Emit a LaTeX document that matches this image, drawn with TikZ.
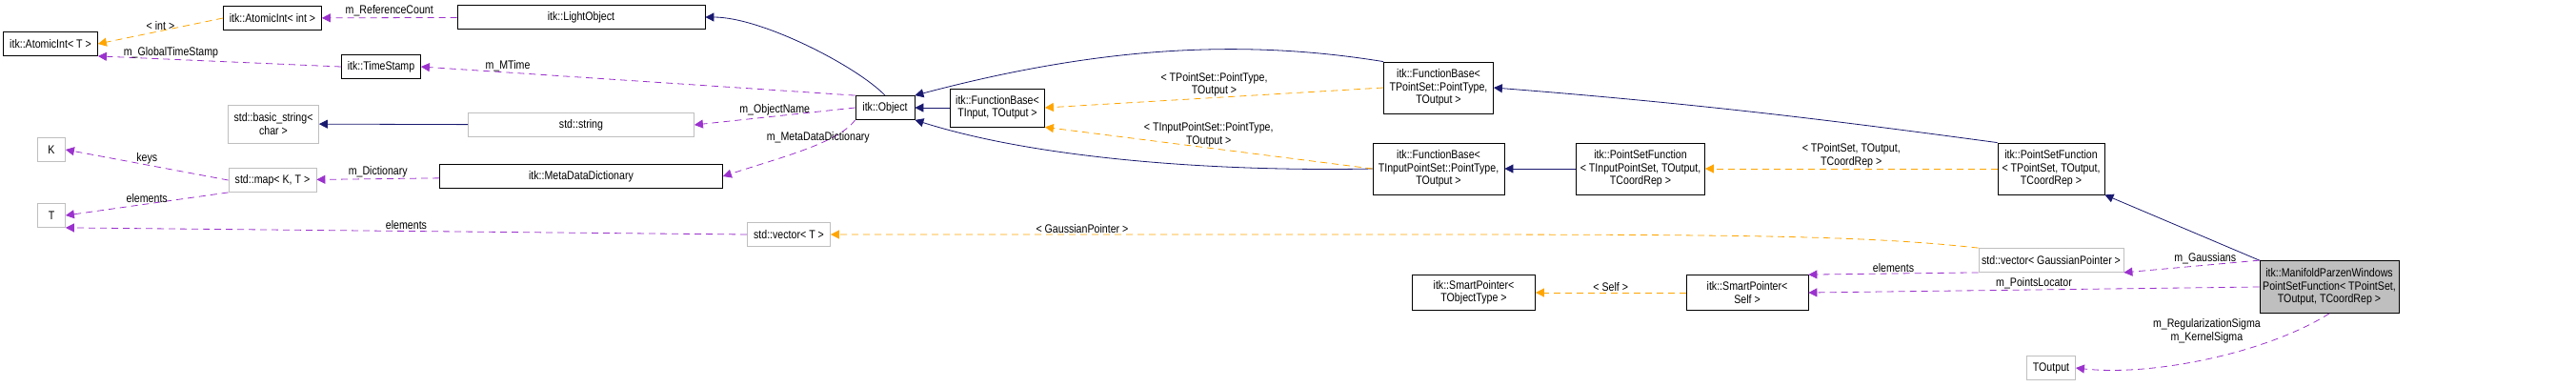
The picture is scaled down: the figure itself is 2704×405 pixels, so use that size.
\documentclass[tikz,border=0pt]{standalone}
\usepackage{fontspec}
\setmainfont{Liberation Sans}[FakeStretch=0.85]
\usetikzlibrary{arrows.meta}

\definecolor{inhcol}{RGB}{25,25,112}
\definecolor{usecol}{RGB}{155,50,205}
\definecolor{tplcol}{RGB}{255,165,0}

\tikzset{
  cls/.style={draw=black,thick,fill=white,align=center,inner sep=2pt,minimum height=25pt},
  ext/.style={cls,draw=black!25},
  inh/.style={draw=inhcol,thick,-{Triangle[length=9pt,width=9pt]}},
  use/.style={draw=usecol,thick,dashed,dash pattern=on 7pt off 5pt,-{Triangle[length=9pt,width=9pt]}},
  tpl/.style={use,draw=tplcol},
  lbl/.style={font=\fontsize{12.5}{13.5}\selectfont,align=center,inner sep=1pt}
}

\begin{document}
\begin{tikzpicture}[x=1pt,y=-1pt,font=\fontsize{12.5}{13.5}\selectfont]
  \useasboundingbox (0,0) rectangle (2704,405);

  % left column
  \node[cls,minimum width=99pt] (atomT) at (53,46) {itk::AtomicInt< T >};
  \node[ext,minimum width=29pt] (K) at (54,157) {K};
  \node[ext,minimum width=29pt] (T) at (54,226) {T};

  \node[cls,minimum width=103pt] (atomInt) at (286,19) {itk::AtomicInt< int >};
  \node[cls,minimum width=83pt] (tstamp) at (400,70) {itk::TimeStamp};
  \node[ext,minimum width=95pt,minimum height=40pt] (bstring) at (287,130) {std::basic\_string<\\char >};
  \node[ext,minimum width=92pt] (map) at (286,189) {std::map< K, T >};

  \node[cls,minimum width=260pt] (light) at (610,18) {itk::LightObject};
  \node[ext,minimum width=237pt] (string) at (610,131) {std::string};
  \node[cls,minimum width=297pt] (mdd) at (610,185) {itk::MetaDataDictionary};
  \node[ext,minimum width=87pt] (vecT) at (828,246) {std::vector< T >};

  \node[cls,minimum width=62pt] (object) at (929,113) {itk::Object};
  \node[cls,minimum width=99pt,minimum height=40pt] (fbase) at (1047,113) {itk::FunctionBase<\\TInput, TOutput >};

  \node[cls,minimum width=115pt,minimum height=54pt] (fbPS) at (1510,92) {itk::FunctionBase<\\TPointSet::PointType,\\TOutput >};
  \node[cls,minimum width=138pt,minimum height=54pt] (fbIPS) at (1510,177) {itk::FunctionBase<\\TInputPointSet::PointType,\\TOutput >};
  \node[cls,minimum width=129pt,minimum height=37pt] (spObj) at (1547,307) {itk::SmartPointer<\\TObjectType >};

  \node[cls,minimum width=135pt,minimum height=54pt] (psfIPS) at (1722,177) {itk::PointSetFunction\\< TInputPointSet, TOutput,\\TCoordRep >};
  \node[cls,minimum width=128pt,minimum height=37pt] (spSelf) at (1834,307) {itk::SmartPointer<\\Self >};

  \node[cls,minimum width=112pt,minimum height=54pt] (psfPS) at (2153,177) {itk::PointSetFunction\\< TPointSet, TOutput,\\TCoordRep >};
  \node[ext,minimum width=152pt] (vecGP) at (2153,273) {std::vector< GaussianPointer >};
  \node[ext,minimum width=51pt] (toutput) at (2153,386) {TOutput};

  \node[cls,fill=black!25,minimum width=146pt,minimum height=55pt] (mpw) at (2445,301) {itk::ManifoldParzenWindows\\PointSetFunction< TPointSet,\\TOutput, TCoordRep >};

  % inheritance
  \draw[inh] (object.north) .. controls (900,70) and (800,18) .. (light.east);
  \draw[inh] (string) -- (bstring);
  \draw[inh] (fbase) -- (object);
  \draw[inh] (fbPS.north west) .. controls (1300,40) and (1150,50) .. (object.north east);
  \draw[inh] (fbIPS.west) .. controls (1300,180) and (1100,170) .. (object.south east);
  \draw[inh] (psfIPS) -- (fbIPS);
  \draw[inh] (psfPS.north west) .. controls (1950,130) and (1800,110) .. (fbPS.east);
  \draw[inh] (mpw.north west) -- (psfPS.south east);

  % usage
  \draw[use] (light) -- node[lbl,above] {m\_ReferenceCount} (atomInt);
  \draw[use] (tstamp.west) -- node[lbl,above,pos=0.7] {m\_GlobalTimeStamp} (atomT.south east);
  \draw[use] (object.north west) -- node[lbl,above,pos=0.8] {m\_MTime} (tstamp.east);
  \draw[use] (object.west) -- node[lbl,above] {m\_ObjectName} (string.east);
  \draw[use] (object.south west) .. controls (880,150) and (820,165) .. node[lbl,above,pos=0.4] {m\_MetaDataDictionary} (mdd.east);
  \draw[use] (mdd) -- node[lbl,above] {m\_Dictionary} (map);
  \draw[use] (map.west) -- node[lbl,above] {keys} (K.east);
  \draw[use] (map.south west) -- node[lbl,above] {elements} (T.east);
  \draw[use] (vecT.west) -- node[lbl,above] {elements} (T.south east);
  \draw[use] (vecGP.south west) -- node[lbl,above] {elements} (spSelf.north east);
  \draw[use] (mpw.north west) -- node[lbl,above,pos=0.4] {m\_Gaussians} (vecGP.south east);
  \draw[use] (mpw.west) -- node[lbl,above] {m\_PointsLocator} (spSelf.east);
  \draw[use] (mpw.south) .. controls (2380,370) and (2260,395) .. node[lbl,above left,pos=0.3] {m\_RegularizationSigma\\m\_KernelSigma} (toutput.east);

  % template instances
  \draw[tpl] (atomInt.west) -- node[lbl,above] {< int >} (atomT.east);
  \draw[tpl] (fbPS.west) -- node[lbl,above] {< TPointSet::PointType,\\TOutput >} (fbase.east);
  \draw[tpl] (fbIPS.west) -- node[lbl,above] {< TInputPointSet::PointType,\\TOutput >} (fbase.south east);
  \draw[tpl] (psfPS) -- node[lbl,above] {< TPointSet, TOutput,\\TCoordRep >} (psfIPS);
  \draw[tpl] (vecGP.north west) .. controls (1950,246) and (1800,246) .. (1400,246) -- node[lbl,above] {< GaussianPointer >} (vecT.east);
  \draw[tpl] (spSelf) -- node[lbl,above] {< Self >} (spObj);
\end{tikzpicture}
\end{document}
